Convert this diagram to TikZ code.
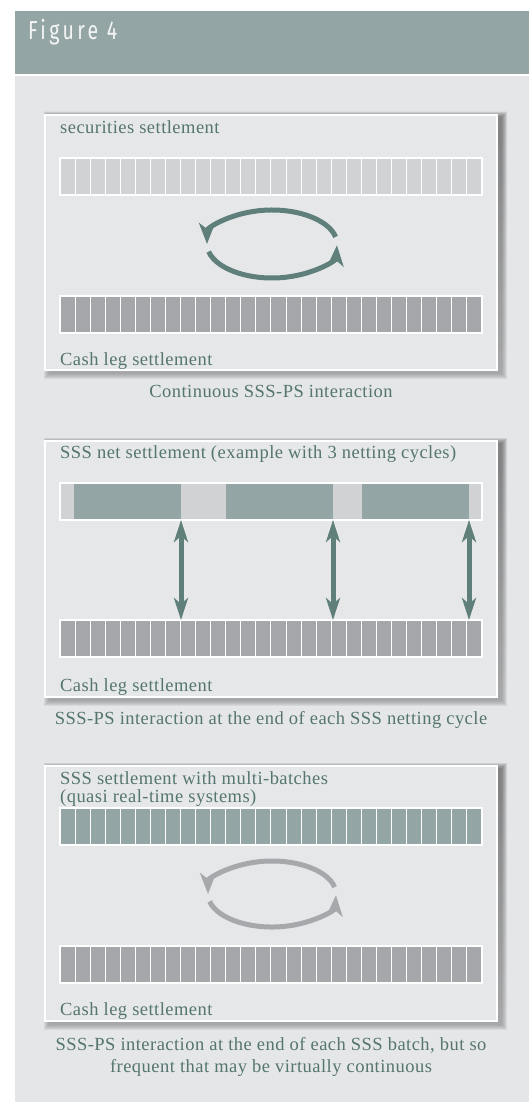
\documentclass[tikz,border=0pt]{standalone}
\usepackage{fontspec}
\setmainfont{Liberation Serif}
\newfontfamily\hdrfont[FakeStretch=0.75,LetterSpace=13]{Fira Sans}
\newfontfamily\lblfont[LetterSpace=2.5]{Liberation Serif}
\usetikzlibrary{arrows.meta}
\definecolor{hdr}{HTML}{93A5A4}
\definecolor{panel}{HTML}{E5E6E8}
\definecolor{boxfill}{HTML}{E6E7E9}
\definecolor{lightcell}{HTML}{D1D2D4}
\definecolor{darkcell}{HTML}{A6A7AB}
\definecolor{tealcell}{HTML}{93A5A4}
\definecolor{txt}{HTML}{55756F}
\definecolor{arrteal}{HTML}{5F7F7A}
\definecolor{arrgray}{HTML}{A7A8AB}
\definecolor{shade}{HTML}{7F8A8A}
\newcommand\cellbar[2]{%
  \fill[#2] (60,#1) rectangle (482,#1+37);
  \foreach \i in {1,...,27} \draw[white,line width=1] (60+\i*15.071,#1) -- ++(0,37);
  \draw[white,line width=1.2] (60,#1) rectangle (482,#1+37);}
\newcommand\settlebox[2]{%
  \foreach \k in {1,...,6} \fill[shade,opacity=0.07] (45-\k+5,#1-\k+3) rectangle (497+\k+4,#2+\k+3);
  \fill[boxfill] (45,#1) rectangle (497,#2);
  \draw[white,line width=1.5] (45,#1) rectangle (497,#2);}
\begin{document}
\begin{tikzpicture}[x=1pt,y=-1pt,
  lbl/.style={inner sep=0,text=txt,font=\lblfont\fontsize{18.5}{19}\selectfont},
  hdrtext/.style={inner sep=0,text=white!90!hdr,font=\hdrfont\fontsize{26}{27}\selectfont},
  vconn/.style={arrteal,line width=5,{Stealth[length=22pt,width=14pt,inset=6pt]}-{Stealth[length=22pt,width=14pt,inset=6pt]}},
  cyc/.style={line width=5,-{Stealth[length=21pt,width=16pt,inset=6pt]}}]
\useasboundingbox (0,0) rectangle (529,1102);
\fill[white] (0,0) rectangle (529,1102);
\fill[hdr] (15,11) rectangle (529,74);
\fill[panel] (15,76) rectangle (529,1102);
\node[hdrtext,anchor=base west] (fig) at (28,40) {Figure 4};

% ---------- Box 1 ----------
\settlebox{115}{370}
\node[lbl,anchor=base west] (t1) at (60,134) {securities settlement};
\cellbar{158}{lightcell}
\cellbar{296}{darkcell}
\node[lbl,anchor=base west] (c1) at (60,365) {Cash leg settlement};
\node[lbl,anchor=base] (cap1) at (271,397) {Continuous SSS-PS interaction};
\coordinate (e1) at (272,244);
\draw[cyc,arrteal] ([shift={(-12:65 and 34)}]e1) arc[start angle=-12,end angle=-180,x radius=65,y radius=34];
\draw[cyc,arrteal] ([shift={(167:65 and 34)}]e1) arc[start angle=167,end angle=2,x radius=65,y radius=34];

% ---------- Box 2 ----------
\settlebox{441}{697}
\node[lbl,anchor=base west] (t2) at (60,458) {SSS net settlement (example with 3 netting cycles)};
\fill[lightcell] (60,483) rectangle (482,520);
\fill[tealcell] (74,483) rectangle (181,520);
\fill[tealcell] (226,483) rectangle (333,520);
\fill[tealcell] (362,483) rectangle (469,520);
\draw[white,line width=1.2] (60,483) rectangle (482,520);
\cellbar{620}{darkcell}
\coordinate (a1) at (181,520); \coordinate (b1) at (181,620);
\coordinate (a2) at (333,520); \coordinate (b2) at (333,620);
\coordinate (a3) at (469,520); \coordinate (b3) at (469,620);
\draw[vconn] (a1) -- (b1);
\draw[vconn] (a2) -- (b2);
\draw[vconn] (a3) -- (b3);
\node[lbl,anchor=base west] (c2) at (60,691) {Cash leg settlement};
\node[lbl,anchor=base] (cap2) at (271,724) {SSS-PS interaction at the end of each SSS netting cycle};

% ---------- Box 3 ----------
\settlebox{766}{1021}
\node[lbl,anchor=base west] (t3a) at (60,784) {SSS settlement with multi-batches};
\node[lbl,anchor=base west] (t3b) at (60,802) {(quasi real-time systems)};
\cellbar{808}{tealcell}
\cellbar{946}{darkcell}
\coordinate (e3) at (272,894);
\draw[cyc,arrgray] ([shift={(-12:64 and 33)}]e3) arc[start angle=-12,end angle=-180,x radius=64,y radius=33];
\draw[cyc,arrgray] ([shift={(167:64 and 33)}]e3) arc[start angle=167,end angle=2,x radius=64,y radius=33];
\node[lbl,anchor=base west] (c3) at (60,1015) {Cash leg settlement};
\node[lbl,anchor=base] (cap3a) at (271,1050) {SSS-PS interaction at the end of each SSS batch, but so};
\node[lbl,anchor=base] (cap3b) at (271,1072) {frequent that may be virtually continuous};
\end{tikzpicture}
\end{document}
